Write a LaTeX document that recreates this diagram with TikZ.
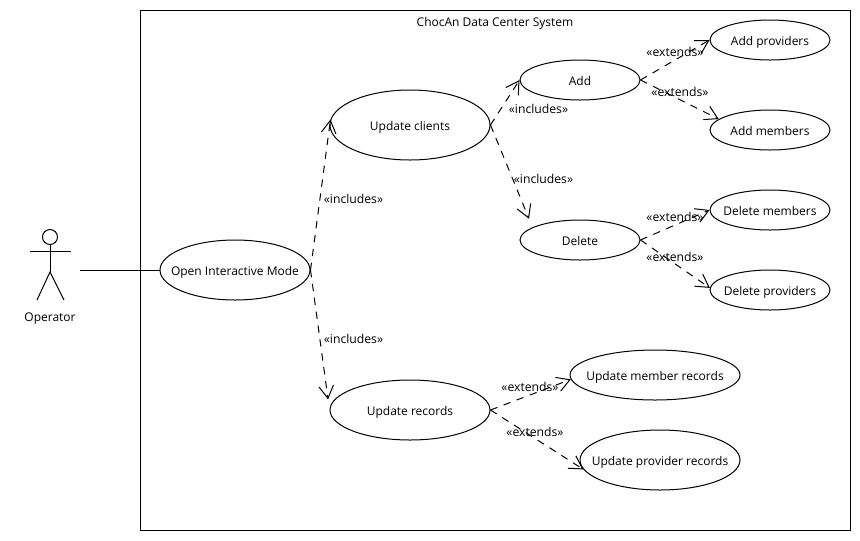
\documentclass[tikz,border=0pt]{standalone}
\usepackage{fontspec}
\setmainfont{Open Sans}
\usetikzlibrary{arrows.meta,shapes.geometric}
\newcommand{\casename}[1]{\raisebox{-.48em}[0pt][0pt]{\makebox[0pt]{#1}}}
\tikzset{
  usecase/.style={draw,ellipse,inner sep=0pt,font=\fontsize{9}{11}\selectfont},
  tag/.style={inner sep=0pt,font=\fontsize{9.15}{10}\selectfont},
  dep/.style={dash pattern=on 5.5pt off 5pt,-{Straight Barb[length=9.5pt,width=11pt]}},
}
\begin{document}
\begin{tikzpicture}[x=0.75pt,y=-0.75pt,line width=0.75pt]
\useasboundingbox (0,0) rectangle (860,540);
\node [draw,minimum width=532.5pt,minimum height=390pt,inner sep=0pt] (system) at (495,270) {};
\node [tag,font=\fontsize{9}{11}\selectfont] (systemname) at (495,23.5) {ChocAn Data Center System};
% actor
\draw (50,237) circle [radius=7.5];
\draw (50,244.5) -- (50,272);
\draw (30,251) -- (71,251);
\draw (37,300) -- (50,272) -- (64,300);
\node [tag,font=\fontsize{9}{11}\selectfont] (operator) at (50,319) {Operator};
\coordinate (operatorhand) at (80,270);
% use cases
\node [usecase,minimum width=112.5pt,minimum height=45pt] (openmode) at (235,270) {\casename{Open Interactive Mode}};
\node [usecase,minimum width=120pt,minimum height=52.5pt] (upclients) at (410,125) {\casename{Update clients}};
\node [usecase,minimum width=120pt,minimum height=45pt] (uprecords) at (410,410) {\casename{Update records}};
\node [usecase,minimum width=90pt,minimum height=30pt] (add) at (580,80) {\casename{Add}};
\node [usecase,minimum width=90pt,minimum height=30pt] (delete) at (580,240) {\casename{Delete}};
\node [usecase,minimum width=90pt,minimum height=30pt] (addprov) at (770,40) {\casename{Add providers}};
\node [usecase,minimum width=90pt,minimum height=30pt] (addmem) at (770,130) {\casename{Add members}};
\node [usecase,minimum width=90pt,minimum height=30pt] (delmem) at (770,210) {\casename{Delete members}};
\node [usecase,minimum width=90pt,minimum height=30pt] (delprov) at (770,290) {\casename{Delete providers}};
\node [usecase,minimum width=127.5pt,minimum height=37.5pt] (upmem) at (655,375) {\casename{Update member records}};
\node [usecase,minimum width=120pt,minimum height=45pt] (upprov) at (660,460) {\casename{Update provider records}};
% connectors
\draw (operatorhand) -- (openmode.west);
\draw [dep] (openmode.east) -- (upclients.176);
\draw [dep,shorten >=8pt] (openmode.east) -- (uprecords.west);
\draw [dep] (upclients.east) -- (add.west);
\draw [dep,shorten >=6.9pt] (upclients.east) -- (delete.165);
\draw [dep] (add.east) -- (addprov.west);
\draw [dep] (add.east) -- (addmem.168);
\draw [dep] (delete.east) -- (delmem.west);
\draw [dep] (delete.east) -- (delprov.178);
\draw [dep] (uprecords.east) -- (upmem.183);
\draw [dep] (uprecords.east) -- (upprov.187);
% labels
\node [tag] (inclclients) at (353.5,199) {«includes»};
\node [tag] (inclrecords) at (353.5,339) {«includes»};
\node [tag] (incladd) at (538.5,109) {«includes»};
\node [tag] (incldelete) at (543.5,179) {«includes»};
\node [tag] (extaddprov) at (675,52) {«extends»};
\node [tag] (extaddmem) at (680,92) {«extends»};
\node [tag] (extdelmem) at (675,217) {«extends»};
\node [tag] (extdelprov) at (675,257) {«extends»};
\node [tag] (extupmem) at (530,387) {«extends»};
\node [tag] (extupprov) at (535,432) {«extends»};
\end{tikzpicture}
\end{document}
